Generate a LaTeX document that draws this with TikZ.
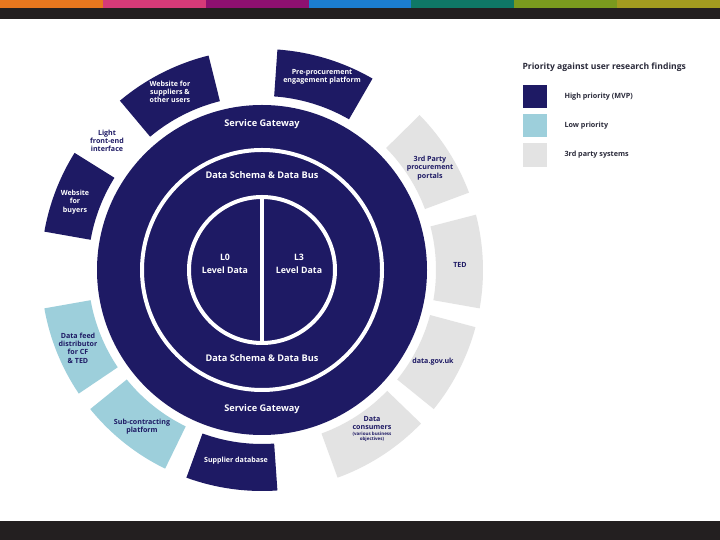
\documentclass[tikz,border=0pt]{standalone}
\usepackage{fontspec}
\setmainfont{Open Sans}
\definecolor{navy}{HTML}{1E1A64}
\definecolor{lblue}{HTML}{9DCFDB}
\definecolor{lgray}{HTML}{E3E3E3}
\definecolor{band}{HTML}{231F20}
\definecolor{legtxt}{HTML}{2A2A3A}
\definecolor{s1}{HTML}{E8771E}
\definecolor{s2}{HTML}{D63A78}
\definecolor{s3}{HTML}{8E1070}
\definecolor{s4}{HTML}{1B7DD1}
\definecolor{s5}{HTML}{0F7866}
\definecolor{s6}{HTML}{7A9A1E}
\definecolor{s7}{HTML}{A39B1F}
\newcommand\ringseg[3]{\fill[#3] (#1:174pt) arc[start angle=#1,end angle=#2,radius=174pt] -- (#2:221pt) arc[start angle=#2,end angle=#1,radius=221pt] -- cycle;}
\tikzset{
  big/.style={text=white,font=\bfseries\fontsize{9.2}{10}\selectfont},
  seglab/.style={align=center,font=\bfseries\fontsize{7.1}{8.3}\selectfont,text=white},
  seglabd/.style={seglab,text=navy},
  leglab/.style={anchor=west,font=\bfseries\fontsize{7.2}{8}\selectfont,text=legtxt},
}
\begin{document}
\begin{tikzpicture}[x=1pt,y=1pt]
\useasboundingbox (0,0) rectangle (720,540);
\fill[white] (0,0) rectangle (720,540);
% header and footer bands
\foreach \c [count=\i from 0] in {s1,s2,s3,s4,s5,s6,s7}
  \fill[\c] ({\i*720/7},532) rectangle ({(\i+1)*720/7},540);
\fill[band] (0,521) rectangle (720,532);
\fill[band] (0,0) rectangle (720,19);
% main circle
\begin{scope}[shift={(262,270)}]
  \fill[navy] (0,0) circle[radius=165pt];
  \draw[white,line width=4pt] (0,0) circle[radius=120pt];
  \draw[white,line width=4pt] (0,0) circle[radius=73pt];
  \draw[white,line width=4pt] (0,-73) -- (0,73);
  % outer segments
  \ringseg{104}{130}{navy}
  \ringseg{60}{86}{navy}
  \ringseg{148}{170}{navy}
  \ringseg{250}{274}{navy}
  \ringseg{190}{214}{lblue}
  \ringseg{219}{244}{lblue}
  \ringseg{20.5}{44.5}{lgray}
  \ringseg{-10}{14.5}{lgray}
  \ringseg{-39}{-15}{lgray}
  \ringseg{-70}{-44}{lgray}
\end{scope}
% circle labels
\node[big] (sgt) at (262,416) {Service Gateway};
\node[big] (sgb) at (262,131) {Service Gateway};
\node[big] (dst) at (262,365) {Data Schema \& Data Bus};
\node[big] (dsb) at (262,182) {Data Schema \& Data Bus};
\node[big,align=center,font=\bfseries\fontsize{8.8}{13}\selectfont] (l0) at (225,276) {L0\\Level Data};
\node[big,align=center,font=\bfseries\fontsize{8.8}{13}\selectfont] (l3) at (299,276) {L3\\Level Data};
% segment labels
\node[seglab] (wsu) at (170,448) {Website for\\suppliers \&\\other users};
\node[seglab] (ppe) at (322,463) {Pre-procurement\\engagement platform};
\node[seglabd] (lfe) at (107,399) {Light\\front-end\\interface};
\node[seglab] (wbu) at (75,338) {Website\\for\\buyers};
\node[seglabd] (tpp) at (430,372) {3rd Party\\procurement\\portals};
\node[seglabd] (ted) at (460,275) {TED};
\node[seglabd] (dgu) at (433,178) {data.gov.uk};
\node[seglabd] (dco) at (372,111) {Data\\consumers\\[-2pt]{\fontsize{4.5}{5}\selectfont (various business}\\[-3pt]{\fontsize{4.5}{5}\selectfont objectives)}};
\node[seglab] (sdb) at (236,79) {Supplier database};
\node[seglabd] (scp) at (142,113) {Sub-contracting\\platform};
\node[seglabd] (dfd) at (78,192) {Data feed\\distributor\\for CF\\\& TED};
% legend
\node[anchor=west,font=\bfseries\fontsize{8.6}{10}\selectfont,text=legtxt] (lt) at (519,473) {Priority against user research findings};
\fill[navy] (523,432) rectangle (547,455);
\fill[lblue] (523,403) rectangle (547,426);
\fill[lgray] (523,373) rectangle (547,397);
\node[leglab] (lh) at (561,443) {High priority (MVP)};
\node[leglab] (ll) at (561,414) {Low priority};
\node[leglab] (l3p) at (561,385) {3rd party systems};
\end{tikzpicture}
\end{document}
